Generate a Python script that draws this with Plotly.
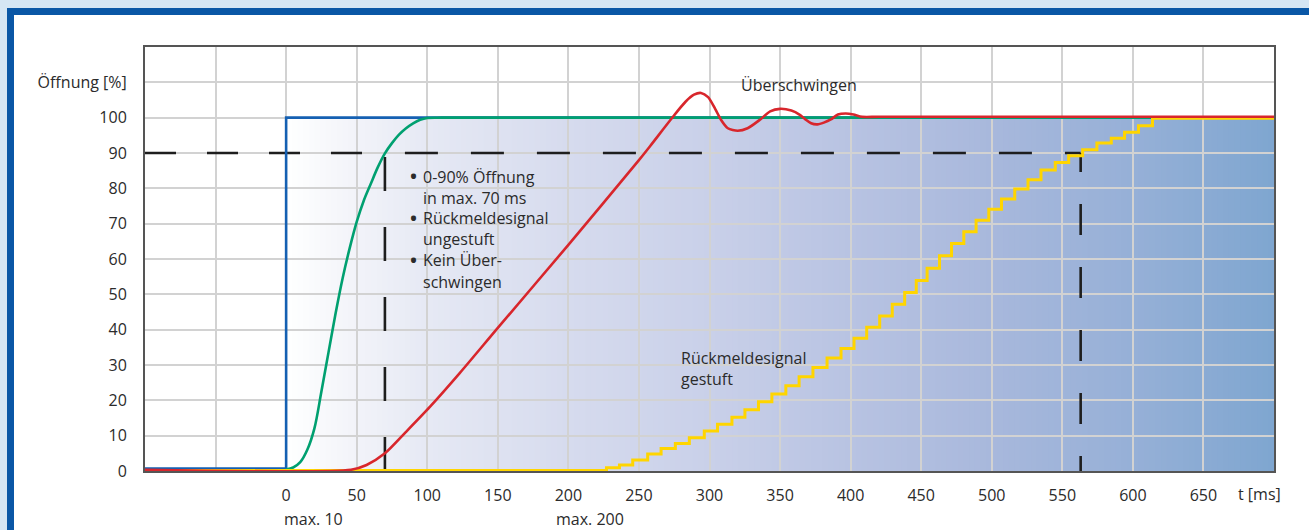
import plotly.graph_objects as go

# ---------------- data ----------------
x_tick_vals = [-50, 0, 50, 100, 150, 200, 250, 300, 350, 400, 450, 500, 550, 600, 650]
x_tick_text = ["", "0", "50", "100", "150", "200", "250", "300", "350", "400",
               "450", "500", "550", "600", "650"]
y_tick_vals = [0, 10, 20, 30, 40, 50, 60, 70, 80, 90, 100, 110]
y_tick_text = ["0", "10", "20", "30", "40", "50", "60", "70", "80", "90", "100", "Öffnung [%]"]

# blue: command signal (step)
blue_t = [-100, 0, 700]
blue_v = [0.7, 100, 100]

# green: valve opening, analog feedback
green_t = [0, 5, 10, 15, 20, 25, 30, 35, 40, 45, 50, 55, 60, 65, 70, 75, 80, 85, 90, 95,
           100, 110, 700]
green_v = [0.5, 1.0, 2.5, 6, 12, 22.5, 33.5, 44.5, 54.5, 63, 70.5, 76.5, 81.3, 86, 89.9,
           92.8, 95.2, 97, 98.4, 99.4, 99.9, 100, 100]

# red: conventional valve with overshoot
red_t = [-100, 46, 57, 70, 85, 102, 123, 150, 200, 250, 258, 273, 283, 289, 294, 299,
         304, 308, 313, 320, 327, 336, 343, 350, 358, 364, 368, 372, 376.5, 381, 386,
         391, 396.5, 402, 408, 420, 700]
red_v = [0.35, 0.35, 1.7, 5, 11.1, 18.2, 27.7, 40.5, 64, 88, 92, 99.7, 104.5, 106.5, 107,
         105.8, 102.5, 99.5, 97, 96.3, 97, 99.5, 101.8, 102.5, 102, 100.8, 99.5, 98.4,
         98.1, 98.6, 99.5, 100.9, 101.2, 100.9, 100.25, 100.25, 100.25]

# yellow: stepped feedback signal
yellow_t = [-100, 227, 236.2, 245.6, 256.2, 265.7, 275.8, 285.7, 296.3, 305.7, 315.9,
            325.1, 334.7, 344.2, 354.1, 363.5, 373.3, 383.3, 393.2, 402.4, 411.4, 420.6,
            429.5, 438.3, 446.5, 454.2, 463.0, 471.5, 480.2, 488.9, 497.9, 506.9, 516.3,
            525.7, 534.9, 545.0, 554.5, 564.4, 574.5, 584.7, 594.1, 604.0, 613.9, 700]
yellow_v = [0.15, 0.9, 1.7, 3.1, 4.8, 6.4, 7.8, 9.4, 11.3, 13.2, 15.2, 17.3, 19.6, 21.8,
            24.1, 26.7, 29.3, 32.0, 34.7, 37.6, 40.7, 43.9, 47.2, 50.5, 53.9, 57.4, 60.9,
            64.4, 67.7, 71.0, 74.1, 77.0, 79.8, 82.4, 85.2, 87.3, 89.2, 90.9, 92.8, 94.2,
            95.9, 97.7, 99.8, 99.8]

# reference lines (90 % opening, reached at 70 ms and ~563 ms)
ref_level = 90
t_fast = 70
t_slow = 563

# background gradient stops (t -> colour)
grad_t = [0, 50, 100, 200, 300, 400, 500, 600, 700]
grad_c = ["#ffffff", "#f2f3f9", "#e6e9f4", "#d6dbee", "#c9d0e9", "#b8c3e2",
          "#a8b8dc", "#96b0d7", "#7fa6d0"]

# ---------------- layout constants ----------------
W, H = 1309, 530
ML, MR, MT, MB = 145, 35, 47, 59
PW, PH = W - ML - MR, H - MT - MB
FONT = "Open Sans"
TXT = "#2b2b2b"
FS = 16


def px_x(px):
    return (px - ML) / PW


def px_y(py):
    return (H - MB - py) / PH


def hex2rgb(h):
    h = h.lstrip("#")
    return tuple(int(h[i:i + 2], 16) for i in (0, 2, 4))


def interp_color(t):
    for i in range(len(grad_t) - 1):
        if grad_t[i] <= t <= grad_t[i + 1]:
            f = (t - grad_t[i]) / (grad_t[i + 1] - grad_t[i])
            a, b = hex2rgb(grad_c[i]), hex2rgb(grad_c[i + 1])
            c = [round(a[k] + (b[k] - a[k]) * f) for k in range(3)]
            return "rgb(%d,%d,%d)" % tuple(c)
    return grad_c[-1]


fig = go.Figure()

DASHC = "#1e1e1e"
fig.add_trace(go.Scatter(x=[-100, t_fast], y=[ref_level, ref_level], mode="lines",
                         line=dict(color=DASHC, width=2.6, dash="31px,31px"),
                         hoverinfo="skip"))
fig.add_trace(go.Scatter(x=[t_fast, t_slow], y=[ref_level, ref_level], mode="lines",
                         line=dict(color=DASHC, width=2.6, dash="0px,20px,33px,13px"),
                         hoverinfo="skip"))
fig.add_trace(go.Scatter(x=[t_fast, t_fast], y=[0, ref_level], mode="lines",
                         line=dict(color=DASHC, width=2.6, dash="34px,36px"),
                         hoverinfo="skip"))
fig.add_trace(go.Scatter(x=[t_slow, t_slow], y=[0, ref_level], mode="lines",
                         line=dict(color=DASHC, width=2.6, dash="15px,32px,16px,0px"),
                         hoverinfo="skip"))

fig.add_trace(go.Scatter(x=blue_t, y=blue_v, mode="lines", line_shape="hv",
                         line=dict(color="#1560b2", width=2.6)))
fig.add_trace(go.Scatter(x=green_t, y=green_v, mode="lines", line_shape="spline",
                         line=dict(color="#00a070", width=2.6, smoothing=1.0)))
fig.add_trace(go.Scatter(x=yellow_t, y=yellow_v, mode="lines", line_shape="hv",
                         line=dict(color="#ffd500", width=3)))
fig.add_trace(go.Scatter(x=red_t, y=red_v, mode="lines", line_shape="spline",
                         line=dict(color="#d8262c", width=2.6, smoothing=0.7)))

shapes = []
# gradient background under the curves (below grid); overlapping bands avoid seams
step = 4
t = 0
while t < 700:
    col = interp_color(t + step / 2)
    shapes.append(dict(type="rect", xref="x", yref="y", x0=t, x1=min(t + 2 * step, 700),
                       y0=0, y1=100, fillcolor=col, line=dict(width=0),
                       layer="below"))
    t += step

# outer frame (light blue strip + dark blue band at top and left)
LB, DB = "#d5e6f4", "#0a57a6"
shapes += [
    dict(type="rect", xref="paper", yref="paper", x0=px_x(-20), x1=px_x(W + 20),
         y0=px_y(8), y1=px_y(-20), fillcolor=LB, line=dict(width=0)),
    dict(type="rect", xref="paper", yref="paper", x0=px_x(-20), x1=px_x(7),
         y0=px_y(H + 20), y1=px_y(-20), fillcolor=LB, line=dict(width=0)),
    dict(type="rect", xref="paper", yref="paper", x0=px_x(7), x1=px_x(W + 20),
         y0=px_y(15), y1=px_y(8), fillcolor=DB, line=dict(width=0)),
    dict(type="rect", xref="paper", yref="paper", x0=px_x(7), x1=px_x(14),
         y0=px_y(H + 20), y1=px_y(8), fillcolor=DB, line=dict(width=0)),
]

ann = []
ft = dict(family=FONT, size=FS, color=TXT)
fb = dict(family=FONT, size=24, color=TXT)
ann.append(dict(x=363.5, y=109.3, xref="x", yref="y", text="Überschwingen",
                showarrow=False, xanchor="center", yanchor="middle", font=ft))
bullet_lines = [("•", "0-90% Öffnung", 83.3), ("", "in max. 70 ms", 77.2),
                ("•", "Rückmeldesignal", 71.5), ("", "ungestuft", 65.6),
                ("•", "Kein Über-", 59.7), ("", "schwingen", 53.6)]
for b, txt, yy in bullet_lines:
    if b:
        ann.append(dict(x=85.5, y=yy + 0.3, xref="x", yref="y", text=b, showarrow=False,
                        xanchor="left", yanchor="middle", font=fb))
    ann.append(dict(x=95.5, y=yy, xref="x", yref="y", text=txt, showarrow=False,
                    xanchor="left", yanchor="middle", font=ft))
ann.append(dict(x=278.6, y=31.9, xref="x", yref="y", text="Rückmeldesignal",
                showarrow=False, xanchor="left", yanchor="middle", font=ft))
ann.append(dict(x=278.6, y=26.0, xref="x", yref="y", text="gestuft",
                showarrow=False, xanchor="left", yanchor="middle", font=ft))
ann.append(dict(x=-3, y=px_y(519), xref="x", yref="paper", text="max. 10",
                showarrow=False, xanchor="left", yanchor="middle", font=ft))
ann.append(dict(x=189.5, y=px_y(519), xref="x", yref="paper", text="max. 200",
                showarrow=False, xanchor="left", yanchor="middle", font=ft))
ann.append(dict(x=673.3, y=px_y(494), xref="x", yref="paper", text="t [ms]",
                showarrow=False, xanchor="left", yanchor="middle", font=ft))

fig.update_layout(
    width=W, height=H,
    margin=dict(l=ML, r=MR, t=MT, b=MB, pad=0),
    paper_bgcolor="white", plot_bgcolor="white",
    showlegend=False,
    font=ft,
    shapes=shapes,
    annotations=ann,
    xaxis=dict(range=[-100, 700], tickvals=x_tick_vals, ticktext=x_tick_text,
               showgrid=True, gridcolor="#d2d2d2", gridwidth=1.5, zeroline=False,
               showline=True, mirror=True, linecolor="#555555", linewidth=2,
               ticks="", ticklabelstandoff=9, tickfont=ft, fixedrange=True),
    yaxis=dict(range=[0, 120], tickvals=y_tick_vals, ticktext=y_tick_text,
               showgrid=True, gridcolor="#d2d2d2", gridwidth=1.5, zeroline=False,
               showline=True, mirror=True, linecolor="#555555", linewidth=2,
               ticks="", ticklabelstandoff=13, tickfont=ft, fixedrange=True),
)

fig.write_html("out.html", config={"displayModeBar": False},
               post_script="document.body.style.margin='0px';"
                           "document.body.style.overflow='hidden';")
